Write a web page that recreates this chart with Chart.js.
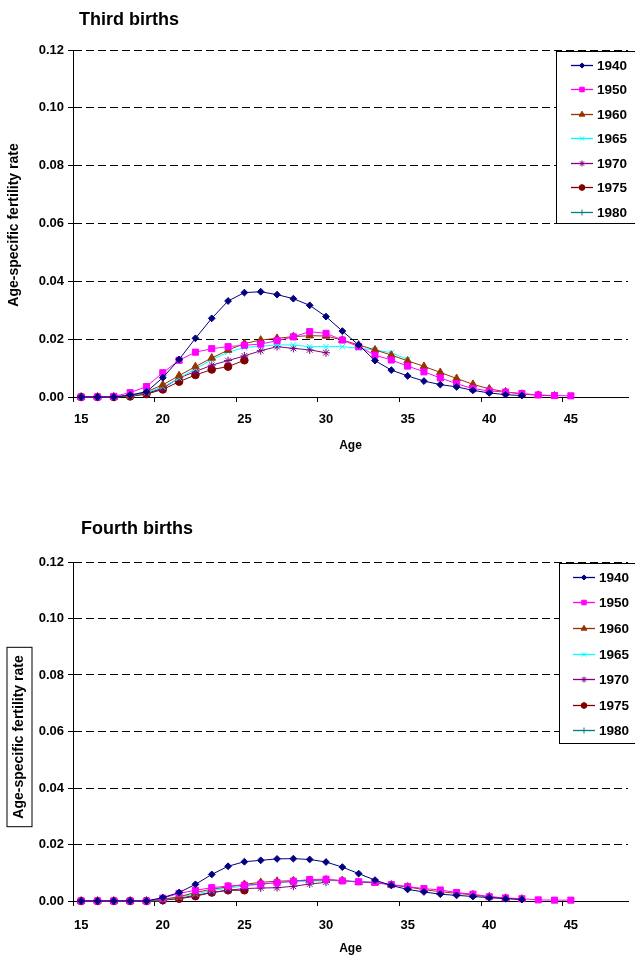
<!DOCTYPE html>
<html><head><meta charset="utf-8">
<script src="https://cdn.jsdelivr.net/npm/chart.js@4.4.1/dist/chart.umd.min.js"></script>
<style>
html,body{margin:0;padding:0;background:#fff;}
body{width:635px;height:961px;position:relative;overflow:hidden;font-family:"Liberation Sans",Arial,sans-serif;}
.wrap{position:absolute;left:0;width:635px;}
.ttl{position:absolute;font-weight:bold;font-size:18px;line-height:22px;color:#000;white-space:nowrap;}
</style></head><body>
<div class="wrap" style="top:0;height:480px"><canvas id="c1"></canvas></div>
<div class="wrap" style="top:480px;height:481px"><canvas id="c2"></canvas></div>
<div class="ttl" style="left:79px;top:8px">Third births</div>
<div class="ttl" style="left:81px;top:517px">Fourth births</div>
<script>
// ---- data ----
const ages = [15,16,17,18,19,20,21,22,23,24,25,26,27,28,29,30,31,32,33,34,35,36,37,38,39,40,41,42,43,44,45,46,47,48];
const xTickLabels = [15,20,25,30,35,40,45];
const yTicks = [0,0.02,0.04,0.06,0.08,0.10,0.12];
const cohorts = ['1940','1950','1960','1965','1970','1975','1980'];

// Third births (values from age 15 onward)
const third1940 = [0,0,0,0.0007,0.0018,0.0067,0.013,0.0203,0.0272,0.0332,0.0361,0.0364,0.0354,0.034,0.0317,0.0278,0.0228,0.018,0.0126,0.0093,0.0073,0.0055,0.0043,0.0035,0.0023,0.0014,0.0008,0.0005];
const third1950 = [0,0,0.0002,0.0015,0.0036,0.0084,0.0127,0.0155,0.0167,0.0174,0.0179,0.0183,0.0195,0.0208,0.0226,0.022,0.0197,0.0174,0.0145,0.0128,0.0107,0.0087,0.0066,0.0046,0.0029,0.0021,0.0017,0.0012,0.0007,0.0005,0.0004];
const third1960 = [0,0,0,0.0005,0.0018,0.0042,0.0074,0.0105,0.0135,0.0162,0.0185,0.0197,0.0203,0.0209,0.0212,0.0211,0.0197,0.018,0.0163,0.0145,0.0125,0.0106,0.0085,0.0064,0.0044,0.0028,0.0018,0.001,0.0006,0.0004];
const third1965 = [0,0,0,0.0004,0.0015,0.0035,0.0065,0.0097,0.0129,0.0155,0.0171,0.0176,0.018,0.018,0.0174,0.0174,0.0174,0.0168,0.0163,0.0153,0.013];
const third1970 = [0,0,0,0.0003,0.0012,0.003,0.0066,0.0088,0.011,0.0126,0.0142,0.016,0.0174,0.0168,0.0163,0.0153];
const third1975 = [0,0,0,0.0002,0.001,0.0026,0.0053,0.0076,0.0095,0.0105,0.0127];
const third1980 = [0,0,0,0.0003,0.0012,0.003];

// Fourth births (values from age 15 onward)
const fourth1940 = [0,0,0,0,0,0.0012,0.003,0.0059,0.0094,0.0123,0.0139,0.0144,0.0149,0.015,0.0147,0.0138,0.012,0.0097,0.0074,0.0055,0.0041,0.0032,0.0024,0.002,0.0016,0.0012,0.0008,0.0005];
const fourth1950 = [0,0,0,0,0,0.001,0.0027,0.0038,0.0047,0.0053,0.0056,0.006,0.0065,0.007,0.0076,0.0077,0.0071,0.0068,0.0066,0.0058,0.0051,0.0044,0.0039,0.003,0.0024,0.0015,0.0011,0.0008,0.0004,0.0003,0.0003];
const fourth1960 = [0,0,0,0,0,0.0006,0.0015,0.003,0.0042,0.005,0.0059,0.0066,0.007,0.0072,0.0073,0.0075,0.0073,0.0066,0.0065,0.0057,0.005,0.004,0.0033,0.0027,0.0022,0.0015,0.001,0.0007];
const fourth1965 = [0,0,0,0,0,0.0005,0.0013,0.0025,0.0037,0.0046,0.0053,0.0059,0.0064,0.0068,0.007,0.0072,0.0072,0.007,0.0067,0.0058,0.005];
const fourth1970 = [0,0,0,0,0,0.0004,0.001,0.002,0.003,0.0038,0.0044,0.0046,0.0047,0.0052,0.006,0.0066];
const fourth1975 = [0,0,0,0,0,0.0003,0.0008,0.0017,0.003,0.0038,0.0038];
const fourth1980 = [0,0,0,0,0,0];

// ---- styles ----
const colors = ['#000080','#FF00FF','#993300','#00FFFF','#800080','#800000','#008080'];
const pointStyles = ['rectRot','rect','triangle','crossRot','star','circle','cross'];
const pointRadii = [3.4,4.3,4.4,4,4,3.8,4];
const FONT = '"Liberation Sans", Arial, sans-serif';

function makeDatasets(series) {
  return series.map((d, i) => ({
    label: cohorts[i],
    data: d,
    borderColor: colors[i],
    backgroundColor: colors[i],
    pointBackgroundColor: colors[i],
    pointBorderColor: colors[i],
    pointStyle: pointStyles[i],
    pointRadius: pointRadii[i],
    pointBorderWidth: 1,
    borderWidth: 1,
    tension: 0,
    spanGaps: false,
    clip: false
  }));
}

function drawMarker(ctx, style, r, x, y, color) {
  ctx.save();
  ctx.fillStyle = color; ctx.strokeStyle = color; ctx.lineWidth = 1;
  if (Chart.helpers && Chart.helpers.drawPoint) {
    Chart.helpers.drawPoint(ctx, {pointStyle: style, radius: r, borderWidth: 1, rotation: 0}, x, y);
  } else {
    ctx.beginPath(); ctx.arc(x, y, r, 0, Math.PI * 2); ctx.fill();
  }
  ctx.restore();
}

const deco = {
  id: 'deco',
  afterDraw(chart, args, o) {
    const ctx = chart.ctx;
    ctx.save();
    // legend
    ctx.fillStyle = '#fff';
    ctx.fillRect(o.lx, o.ly, o.lw, o.lh);
    ctx.strokeStyle = '#000'; ctx.lineWidth = 1;
    ctx.strokeRect(o.lx + 0.5, o.ly + 0.5, o.lw, o.lh);
    chart.data.datasets.forEach((ds, i) => {
      const y = Math.round(o.ly + o.first + i * o.step) + 0.5;
      ctx.strokeStyle = ds.borderColor; ctx.lineWidth = 1.3;
      ctx.beginPath(); ctx.moveTo(o.lx + o.s1, y); ctx.lineTo(o.lx + o.s2, y); ctx.stroke();
      drawMarker(ctx, ds.pointStyle, ds.pointRadius * 0.75, o.lx + (o.s1 + o.s2) / 2, y, ds.borderColor);
      ctx.fillStyle = '#000';
      ctx.font = 'bold 13.5px ' + FONT;
      ctx.textBaseline = 'middle'; ctx.textAlign = 'left';
      ctx.fillText(ds.label, o.lx + o.tx, y + 1);
    });
    // y-axis title
    ctx.save();
    ctx.translate(o.yx, o.yy);
    ctx.rotate(-Math.PI / 2);
    ctx.font = 'bold 14px ' + FONT;
    ctx.fillStyle = '#000'; ctx.textAlign = 'center'; ctx.textBaseline = 'middle';
    const txt = 'Age-specific fertility rate';
    ctx.fillText(txt, 0, 0);
    if (o.box) {
      const w = ctx.measureText(txt).width;
      ctx.strokeStyle = '#000'; ctx.lineWidth = 1;
      ctx.strokeRect(-w / 2 - 8, -12.5, w + 16, 25);
    }
    ctx.restore();
    ctx.restore();
  }
};

function makeChart(id, series, padTop, xHeight, tickPad, ageTitlePad, leg) {
  return new Chart(document.getElementById(id), {
    type: 'line',
    data: { labels: ages, datasets: makeDatasets(series) },
    plugins: [deco],
    options: {
      responsive: true,
      maintainAspectRatio: false,
      animation: false,
      layout: { padding: { top: padTop, right: 7, left: 0, bottom: 0 } },
      plugins: { legend: { display: false }, title: { display: false }, tooltip: { enabled: false }, deco: leg },
      scales: {
        x: {
          type: 'category',
          offset: true,
          afterFit: s => { s.height = xHeight; },
          grid: {
            display: true, offset: true, drawOnChartArea: false, drawTicks: true, tickLength: 5,
            color: c => (c.index !== undefined && c.index % 5 === 0) ? '#000' : 'rgba(0,0,0,0)',
            tickColor: c => (c.index !== undefined && c.index % 5 === 0) ? '#000' : 'rgba(0,0,0,0)'
          },
          border: { display: true, color: '#000', width: 1 },
          ticks: {
            autoSkip: false, maxRotation: 0, minRotation: 0, padding: tickPad, color: '#000',
            font: { family: FONT, size: 13, weight: 'bold' },
            callback: (v, i) => xTickLabels.includes(ages[i]) ? String(ages[i]) : ''
          },
          title: { display: true, text: 'Age', color: '#000', font: { family: FONT, size: 12, weight: 'bold' }, padding: { top: 0, bottom: ageTitlePad } }
        },
        y: {
          min: 0, max: 0.12,
          afterFit: s => { s.width = 73; },
          afterBuildTicks: s => { s.ticks = yTicks.map(v => ({ value: v })); },
          grid: { color: '#000', lineWidth: 1, drawTicks: true, tickLength: 5, tickColor: '#000' },
          border: { display: true, color: '#000', width: 1, dash: [8, 4] },
          ticks: { padding: 4, color: '#000', font: { family: FONT, size: 13, weight: 'bold' }, callback: v => Number(v).toFixed(2) }
        }
      }
    }
  });
}

makeChart('c1', [third1940, third1950, third1960, third1965, third1970, third1975, third1980], 50, 83, 10, 27,
  { lx: 556, ly: 51, lw: 82, lh: 172, first: 13.5, step: 24.5, s1: 15, s2: 37, tx: 41, yx: 14, yy: 225, box: false });
makeChart('c2', [fourth1940, fourth1950, fourth1960, fourth1965, fourth1970, fourth1975, fourth1980], 82, 60, 12, 5,
  { lx: 559, ly: 83, lw: 80, lh: 180, first: 13.7, step: 25.6, s1: 14, s2: 36, tx: 40, yx: 19.5, yy: 257, box: true });
</script>
</body></html>
